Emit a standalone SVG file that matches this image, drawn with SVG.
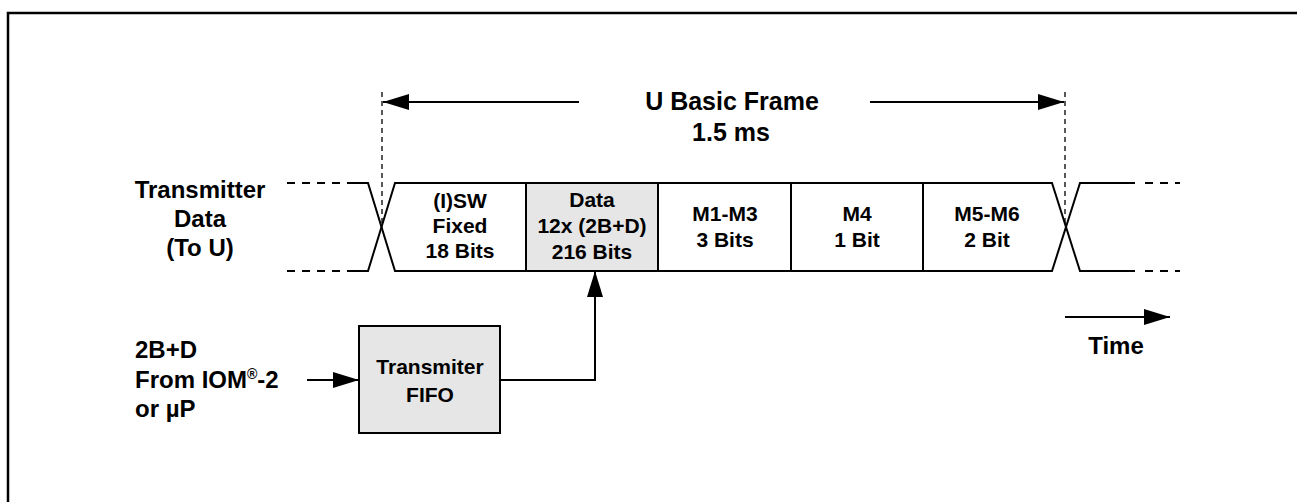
<svg xmlns="http://www.w3.org/2000/svg" width="1297" height="502" viewBox="0 0 1297 502">
<style>
text{font-family:"Liberation Sans",Arial,sans-serif;font-weight:bold;fill:#000;text-anchor:middle}
.t18{font-size:24px}
.t16{font-size:21px}
.t20{font-size:25px}
.ln{stroke:#000;stroke-width:2;fill:none}
.dash{stroke:#000;stroke-width:2;fill:none;stroke-dasharray:8 7}
.vd{stroke:#000;stroke-width:1.3;fill:none;stroke-dasharray:5 4}
</style>
<defs>
<marker id="ahb" markerWidth="26" markerHeight="16" refX="26" refY="8" orient="auto" markerUnits="userSpaceOnUse">
<path d="M0,0 L26,8 L0,16 Z" fill="#000"/>
</marker>
</defs>
<g id="frame">
<path d="M8,502 L8,13 L1297,13" stroke="#000" stroke-width="2.5" fill="none"/>
</g>
<g id="title">
<text class="t20" x="732" y="110">U Basic Frame</text>
<text class="t20" x="731" y="141">1.5 ms</text>
</g>
<g id="signal-label">
<text class="t18" x="200" y="198">Transmitter</text>
<text class="t18" x="200" y="227">Data</text>
<text class="t18" x="200" y="256">(To U)</text>
</g>
<g id="cell-sw">
<text class="t16" x="460" y="208">(I)SW</text>
<text class="t16" x="460" y="233">Fixed</text>
<text class="t16" x="460" y="258">18 Bits</text>
</g>
<g id="cell-data">
<rect x="526" y="183" width="132" height="88" fill="#e6e6e6"/>
<text class="t16" x="592" y="207">Data</text>
<text class="t16" x="592" y="233">12x (2B+D)</text>
<text class="t16" x="592" y="259">216 Bits</text>
</g>
<g id="cell-m1m3">
<text class="t16" x="725" y="221">M1-M3</text>
<text class="t16" x="725" y="247">3 Bits</text>
</g>
<g id="cell-m4">
<text class="t16" x="857" y="221">M4</text>
<text class="t16" x="857" y="247">1 Bit</text>
</g>
<g id="cell-m5m6">
<text class="t16" x="987" y="221">M5-M6</text>
<text class="t16" x="987" y="247">2 Bit</text>
</g>
<g id="waveform">
<path class="dash" d="M287,183 L350,183"/>
<path class="dash" d="M287,271 L350,271"/>
<path class="ln" d="M350,183 L368,183 L395,271 L526,271"/>
<path class="ln" d="M350,271 L368,271 L395,183 L1052,183 L1080,271 L1135,271"/>
<path class="ln" d="M526,271 L1052,271 L1080,183 L1135,183"/>
<path class="dash" d="M1145,183 L1180,183 M1145,271 L1180,271" stroke-dasharray="12 11"/>
<path class="ln" d="M526,183 L526,271 M658,183 L658,271 M791,183 L791,271 M923,183 L923,271"/>
</g>
<g id="fifo">
<rect x="359" y="326" width="141" height="107" fill="#e6e6e6" stroke="#000" stroke-width="2"/>
<text class="t16" x="430" y="374">Transmiter</text>
<text class="t16" x="430" y="402">FIFO</text>
</g>
<g id="input-label">
<text class="t18" x="135" y="358" style="text-anchor:start">2B+D</text>
<text class="t18" x="135" y="388" style="text-anchor:start">From IOM<tspan font-size="14" dy="-9">®</tspan><tspan dy="9">-2</tspan></text>
<text class="t18" x="135" y="417" style="text-anchor:start">or µP</text>
</g>
<g id="time">
<text class="t18" x="1116" y="354">Time</text>
</g>
<g id="connectors">
<path class="vd" d="M382,92 L382,227"/>
<path class="vd" d="M1065,92 L1065,227"/>
<path class="ln" d="M579,102 L383,102" marker-end="url(#ahb)" stroke-width="1.5"/>
<path class="ln" d="M870,102 L1064,102" marker-end="url(#ahb)" stroke-width="1.5"/>
<path class="ln" d="M307,380 L359,380" marker-end="url(#ahb)"/>
<path class="ln" d="M500,380 L595,380 L595,271" marker-end="url(#ahb)"/>
<path class="ln" d="M1065,317 L1170,317" marker-end="url(#ahb)"/>
</g>
</svg>
